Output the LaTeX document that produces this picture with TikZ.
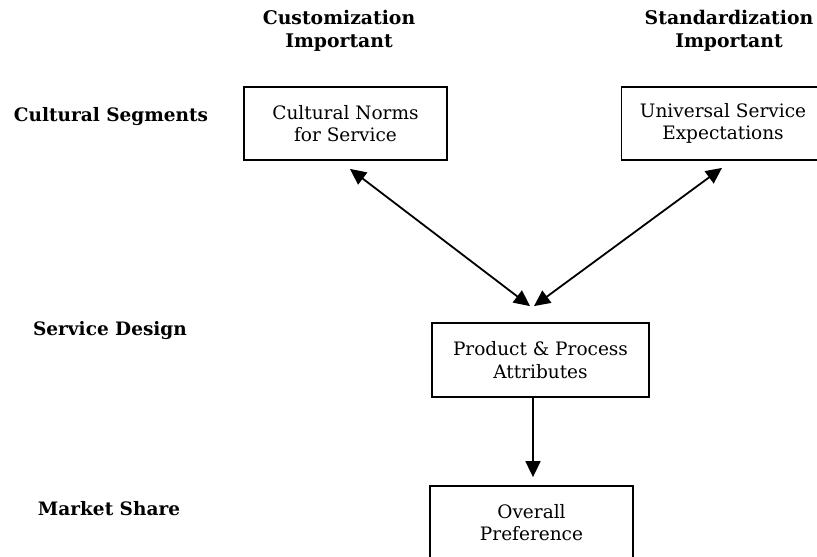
\documentclass[tikz,border=0pt]{standalone}
\usepackage{fontspec}
\setmainfont{DejaVu Serif}
\usetikzlibrary{arrows.meta,calc}
\begin{document}
\begin{tikzpicture}[x=1pt,y=-1pt,
  every node/.style={font=\fontsize{18.5}{22.5}\selectfont},
  hdr/.style={font=\fontsize{18.8}{23}\selectfont\bfseries,align=center,inner sep=0pt},
  rowlbl/.style={font=\fontsize{18.5}{22}\selectfont\bfseries,inner sep=0pt},
  box/.style={draw,line width=1.8pt,minimum width=203pt,minimum height=73pt,align=center,inner sep=0pt},
  conn/.style={line width=1.8pt,{Triangle[length=16pt,width=15pt]}-{Triangle[length=16pt,width=15pt]}},
  oneway/.style={line width=1.8pt,-{Triangle[length=16pt,width=15pt]}}]
\useasboundingbox (0,0) rectangle (817,557);
\clip (0,0) rectangle (817,557);
\node[hdr] (hc) at (339,31) {Customization\\Important};
\node[hdr] (hs) at (729,31) {Standardization\\Important};
\node[rowlbl] (l1) at (111,117) {Cultural Segments};
\node[rowlbl] (l2) at (110,331) {Service Design};
\node[rowlbl] (l3) at (109,509) {Market Share};
\node[box] (b1) at (345.5,123.5) {Cultural Norms\\for Service};
\node[box] (b2) at (723,123.5) {Universal Service\\Expectations};
\node[box,minimum width=217pt,minimum height=74pt] (b3) at (540.5,360) {Product \& Process\\Attributes};
\node[box] (b4) at (531.5,522.5) {Overall\\Preference};
\coordinate (t1) at ($(b1.south)+(4.5,8)$);
\coordinate (t2) at ($(b2.south)+(-1,7)$);
\coordinate (m1) at ($(b3.north)+(-10.5,-16)$);
\coordinate (m2) at ($(b3.north)+(-6.5,-16)$);
\coordinate (v1) at ($(b3.south)+(-7.5,0)$);
\coordinate (v2) at ($(b4.north)+(1.5,-8)$);
\draw[conn] (t1) -- (m1);
\draw[conn] (t2) -- (m2);
\draw[oneway] (v1) -- (v2);
\end{tikzpicture}
\end{document}
